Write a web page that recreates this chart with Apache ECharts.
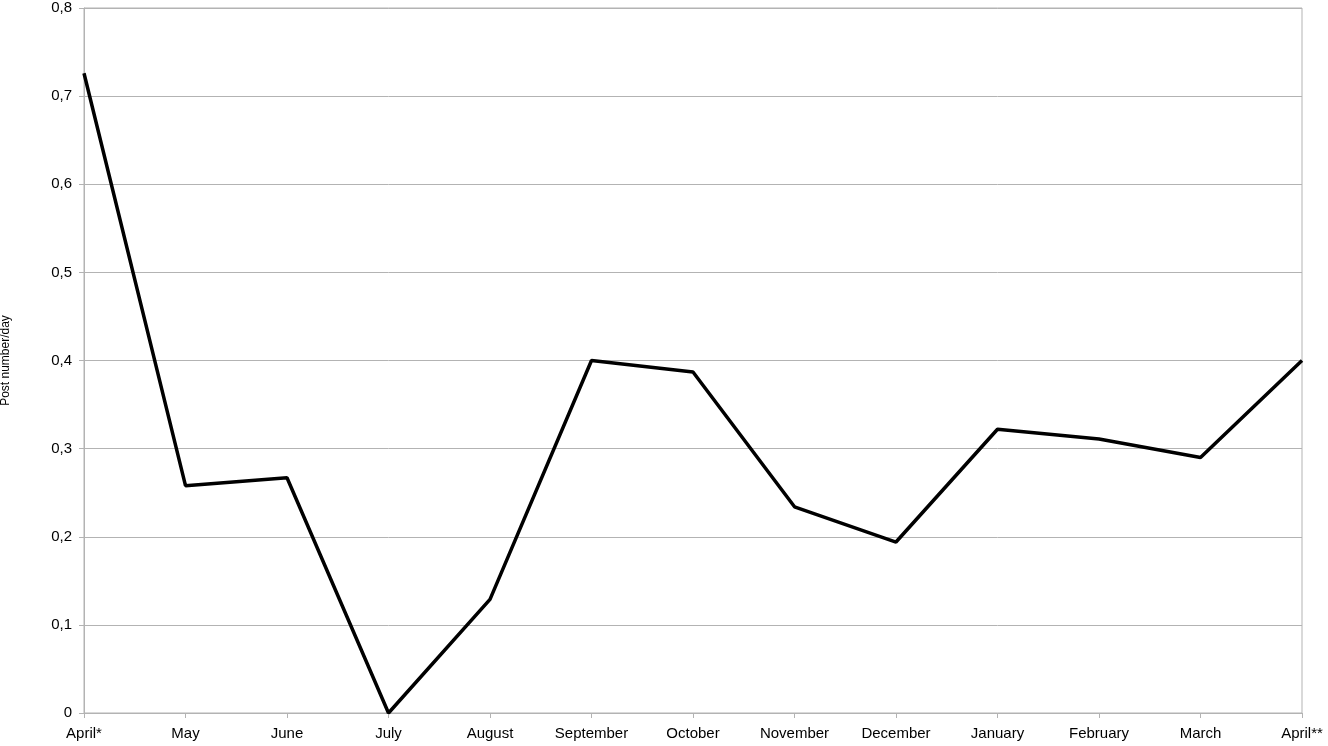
<!DOCTYPE html>
<html>
<head>
<meta charset="utf-8">
<script src="https://cdn.jsdelivr.net/npm/echarts@6/dist/echarts.min.js"></script>
<style>html,body{margin:0;background:#fff}#chart{width:1328px;height:746px}</style>
</head>
<body>
<div id="chart"></div>
<script>
const months = ["April*", "May", "June", "July", "August", "September", "October",
  "November", "December", "January", "February", "March", "April**"];
const postsPerDay = [0.726, 0.258, 0.267, 0, 0.129, 0.4, 0.387, 0.234, 0.194, 0.322, 0.311, 0.29, 0.4];

const chart = echarts.init(document.getElementById("chart"));
const font = "Liberation Sans";
chart.setOption({
  animation: false,
  grid: {
    left: 84, right: 26, top: 8, bottom: 33,
    containLabel: false, outerBoundsMode: "none",
    show: true, borderColor: "#b3b3b3", borderWidth: 1
  },
  xAxis: {
    type: "category",
    data: months,
    boundaryGap: false,
    axisLine: { lineStyle: { color: "#b3b3b3" } },
    axisTick: { show: true, length: 5, lineStyle: { color: "#b3b3b3" } },
    axisLabel: { color: "#000", fontFamily: font, fontSize: 15, margin: 13, interval: 0 },
    splitLine: { show: false }
  },
  yAxis: {
    type: "value",
    min: 0, max: 0.8, interval: 0.1,
    name: "Post number/day",
    nameLocation: "middle",
    nameGap: 72,
    nameTextStyle: { color: "#000", fontFamily: font, fontSize: 12 },
    axisLine: { show: true, lineStyle: { color: "#b3b3b3" } },
    axisTick: { show: true, length: 5, lineStyle: { color: "#b3b3b3" } },
    axisLabel: {
      color: "#000", fontFamily: font, fontSize: 15, margin: 12,
      formatter: v => v === 0 ? "0" : v.toFixed(1).replace(".", ",")
    },
    splitLine: { lineStyle: { color: "#b3b3b3" } }
  },
  series: [{
    type: "line",
    data: postsPerDay,
    showSymbol: false,
    lineStyle: { color: "#000", width: 3.5 }
  }]
});
</script>
</body>
</html>
